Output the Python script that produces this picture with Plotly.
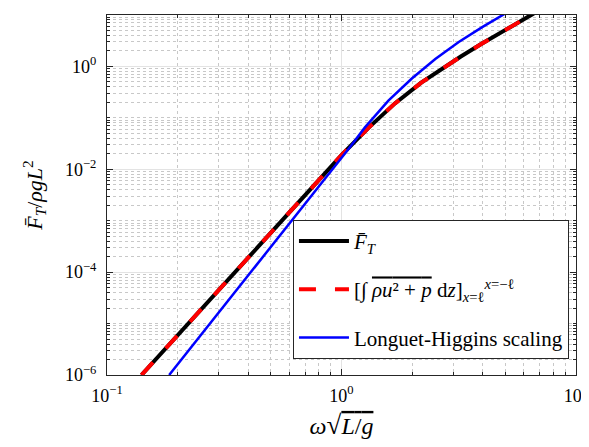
import plotly.graph_objects as go

# --- data (log-log) ---
omega_FT = [0.1403, 0.3524, 0.885, 1.007, 1.303, 1.690, 2.188, 2.661, 3.228, 3.926, 4.764, 5.794, 6.607]
FT = [1.0e-6, 1.0e-4, 1.0e-2, 0.01954, 0.0640, 0.191, 0.483, 0.887, 1.556, 2.692, 4.550, 7.638, 10.72]

omega_int = [0.1403, 0.3524, 0.885, 1.007, 1.303, 1.690, 2.188, 2.661, 3.228, 3.926, 4.764, 5.794, 6.607]
F_int = [1.0e-6, 1.0e-4, 1.0e-2, 0.01954, 0.0640, 0.191, 0.483, 0.887, 1.556, 2.692, 4.550, 7.638, 10.72]

omega_LH = [0.1841, 0.4111, 0.9163, 1.0715, 1.2589, 1.5849, 1.9953, 2.5119, 3.1623, 3.981, 5.012]
F_LH = [1.0e-6, 1.0e-4, 1.0e-2, 0.02477, 0.0652, 0.2158, 0.5808, 1.393, 2.979, 5.808, 10.81]

x_major = [0.1, 1, 10]
x_major_text = ["10<sup>−1</sup>", "10<sup>0</sup>", "10<sup>1</sup>"]
y_major = [1e-6, 1e-4, 1e-2, 1]
y_major_text = ["10<sup>−6</sup>", "10<sup>−4</sup>", "10<sup>−2</sup>", "10<sup>0</sup>"]

FONT = "Liberation Serif"

def minor_vals(lo, hi, majors):
    vals = []
    for e in range(lo, hi + 1):
        for k in range(1, 10):
            v = k * 10.0 ** e
            if v > 10.0 ** hi * 1.0001:
                continue
            if all(abs(v - m) > 1e-9 * m for m in majors):
                vals.append(v)
    return vals

x_minor = minor_vals(-1, 1, x_major)
y_minor = minor_vals(-6, 1, y_major)

fig = go.Figure()
fig.add_trace(go.Scatter(x=omega_FT, y=FT, mode="lines", line=dict(color="black", width=4),
                         name="<i>F̄</i><sub><i>T</i></sub>", legendgroup="a"))
fig.add_trace(go.Scatter(x=omega_int, y=F_int, mode="lines",
                         line=dict(color="#ff0000", width=4, dash="17px,19px"),
                         name="[∫ <span style='text-decoration:overline'><i>ρu</i>² + <i>p</i></span> d<i>z</i>]<sub><i>x</i>=ℓ</sub><sup><i>x</i>=−ℓ</sup>",
                         legendgroup="b"))
fig.add_trace(go.Scatter(x=omega_LH, y=F_LH, mode="lines", line=dict(color="#0000ff", width=2.5),
                         name="Longuet-Higgins scaling", legendgroup="c"))

axis_common = dict(
    type="log", showline=True, linecolor="#262626", linewidth=1, mirror="allticks",
    ticks="inside", ticklen=6, tickcolor="#262626", showgrid=True, gridcolor="#e3e3e3", gridwidth=1,
    zeroline=False, tickfont=dict(family=FONT, size=18, color="black"),
)

fig.update_xaxes(**axis_common, range=[-1, 1], tickmode="array", tickvals=x_major, ticktext=x_major_text,
                 ticklabelstandoff=4,
                 minor=dict(tickmode="array", tickvals=x_minor, ticks="inside", ticklen=3, tickcolor="#262626",
                            showgrid=True, gridcolor="#c8c8c8", griddash="dot", gridwidth=1),
                 title=dict(text="<i>ω</i><span style='font-size:27px'>√</span><span style='text-decoration:overline'><i>L</i>/<i>g</i></span>",
                            font=dict(family=FONT, size=24, color="black"), standoff=12))
fig.update_yaxes(**axis_common, range=[-6, 1], tickmode="array", tickvals=y_major, ticktext=y_major_text,
                 ticklabelstandoff=6,
                 minor=dict(tickmode="array", tickvals=y_minor, ticks="inside", ticklen=3, tickcolor="#262626",
                            showgrid=True, gridcolor="#c8c8c8", griddash="dot", gridwidth=1),
                 title=dict(text="<i>F̄</i><sub><i>T</i></sub>/<i>ρgL</i><sup>2</sup>",
                            font=dict(family=FONT, size=22, color="black"), standoff=16))

fig.update_layout(
    width=589, height=447, margin=dict(l=99, r=21, t=7, b=80),
    paper_bgcolor="white", plot_bgcolor="white",
    font=dict(family=FONT, size=20, color="black"),
    showlegend=True,
    legend=dict(x=0.985, y=0.045, xanchor="right", yanchor="bottom", bgcolor="white",
                bordercolor="#262626", borderwidth=1, font=dict(family=FONT, size=21, color="black"),
                itemwidth=50, tracegroupgap=18, traceorder="grouped"),
)

fig.write_html("out.html")
